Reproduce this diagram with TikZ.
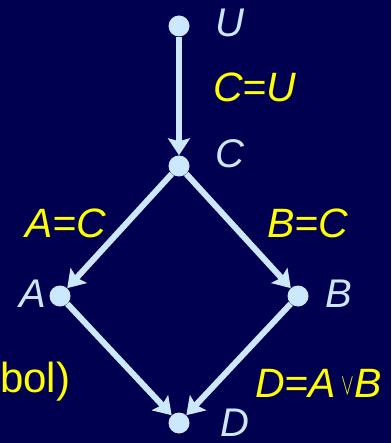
\documentclass[tikz,border=0pt]{standalone}
\usepackage{fontspec}
\usepackage{graphicx}
\setmainfont{Liberation Sans}
\usetikzlibrary{arrows.meta}
\definecolor{bg}{RGB}{0,0,80}
\definecolor{lb}{RGB}{204,232,255}
\definecolor{yl}{RGB}{255,255,0}
\newcommand{\smallor}{\raisebox{3pt}{\fontsize{10}{10}\selectfont\scalebox{1.9}[3.0]{$\vee$}}}
\begin{document}
\begin{tikzpicture}[x=1pt,y=-1pt,
 vtx/.style={circle,fill=lb,inner sep=0pt,minimum size=21pt},
 vlab/.style={text=lb,font=\fontsize{40}{40}\selectfont\itshape,inner sep=0pt,anchor=base west},
 elab/.style={text=yl,font=\fontsize{41}{41}\selectfont\itshape,inner sep=0pt,anchor=base west},
 edge/.style={draw=lb,line width=6pt,-{Stealth[length=17pt,width=22pt,inset=3pt]}}]
\fill[bg] (0,0) rectangle (391,443);
\useasboundingbox (0,0) rectangle (391,443);
\node[vtx] (U) at (179,26) {};
\node[vtx] (C) at (179,166) {};
\node[vtx] (A) at (60,296) {};
\node[vtx] (B) at (298,296) {};
\node[vtx] (D) at (179,423) {};
\node[vlab] (lU) at (215,37) {U};
\node[vlab] (lC) at (215,168) {C};
\node[vlab] (lA) at (19,307) {A};
\node[vlab] (lB) at (325,307) {B};
\node[vlab] (lD) at (220,436) {D};
\node[elab] (eCU) at (213,102) {C=U};
\node[elab] (eAC) at (25,237) {A=C};
\node[elab] (eBC) at (267,237) {B=C};
\node[elab] (eD) at (255,397) {D=A\kern5pt\smallor\kern1pt B};
\node[elab,font=\fontsize{42}{42}\selectfont] (ebol) at (0,392) {bol)};
\draw[edge] (U) -- (C);
\draw[edge] (C) -- (A);
\draw[edge] (C) -- (B);
\draw[edge] (A) -- (D);
\draw[edge] (B) -- (D);
\end{tikzpicture}
\end{document}
